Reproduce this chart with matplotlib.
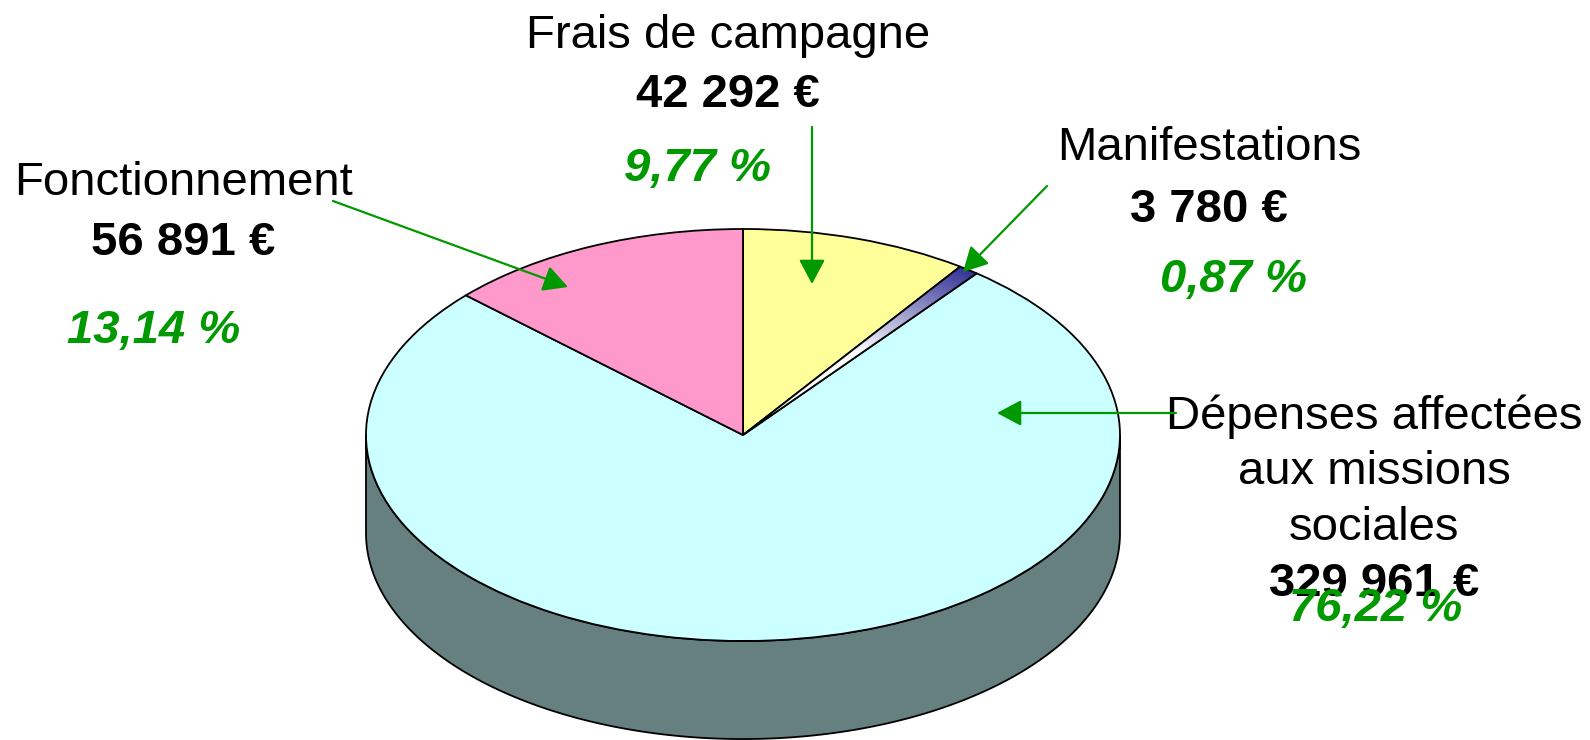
import numpy as np
import matplotlib
matplotlib.use('Agg')
import matplotlib.pyplot as plt
from matplotlib.colors import LinearSegmentedColormap, to_rgb

# Données
noms = ['Frais de campagne', 'Manifestations', 'Dépenses affectées\naux missions\nsociales', 'Fonctionnement']
montants = [42292, 3780, 329961, 56891]
montants_txt = ['42 292 €', '3 780 €', '329 961 €', '56 891 €']
pourcents = ['9,77 %', '0,87 %', '76,22 %', '13,14 %']
couleurs = ['#ffff99', '#333399', '#ccffff', '#ff99cc']

W, H = 1590, 740
fig = plt.figure(figsize=(W / 100, H / 100), dpi=100)
ax = fig.add_axes([0, 0, 1, 1])

# camembert (partie haute)
wedges, _ = ax.pie(montants, colors=couleurs, startangle=90, counterclock=False,
                   radius=1, center=(0, 0),
                   wedgeprops=dict(edgecolor='black', linewidth=1.3, zorder=3))

# dégradé sur la petite part "Manifestations"
xx, yy = np.meshgrid(np.linspace(-1, 1, 400), np.linspace(-1, 1, 400))
rr = np.sqrt(xx ** 2 + yy ** 2)
cmap_grad = LinearSegmentedColormap.from_list('g', ['#ffffff', '#ffffff', '#333399'])
img = ax.imshow(rr, extent=(-1, 1, -1, 1), origin='lower', cmap=cmap_grad,
                vmin=0, vmax=1, zorder=3.5, aspect='auto')
img.set_clip_path(wedges[1])
wedges[1].set_facecolor('none')
wedges[1].set_zorder(4)

# épaisseur (côté du cylindre)
epaisseur = 0.476
fracs = np.array(montants) / sum(montants)
cum = np.concatenate([[0], np.cumsum(fracs)])
for i in range(len(montants)):
    t_hi = 90 - cum[i] * 360
    t_lo = 90 - cum[i + 1] * 360
    # ramener dans [-180, 0] (face avant)
    for shift in (0, -360, 360):
        a = max(t_lo + shift, -180)
        b = min(t_hi + shift, 0)
        if b > a:
            t = np.radians(np.linspace(a, b, 200))
            xs = np.concatenate([np.cos(t), np.cos(t[::-1])])
            ys = np.concatenate([np.sin(t), np.sin(t[::-1]) - epaisseur])
            c = tuple(0.5 * v for v in to_rgb(couleurs[i]))
            ax.fill(xs, ys, color=c, edgecolor='black', linewidth=1.3, zorder=2)

ax.set_aspect('auto')
# pixels -> unités
ax.set_xlim(-1.9708, 2.2467)
ax.set_ylim(-1.4806, 2.1117)
ax.axis('off')

police = 'Liberation Sans'
fs = 34
vert = '#009900'
dy = 4  # petit décalage vertical des textes


def fy(y):
    return H - y


def texte(x, y, s, **kw):
    ax.annotate(s, xy=(x, fy(y + dy)), xycoords='figure pixels', ha='center', va='center',
                fontsize=fs, family=police, zorder=6, **kw)


def fleche(x0, y0, x1, y1):
    ax.annotate('', xy=(x1, fy(y1)), xytext=(x0, fy(y0)),
                xycoords='figure pixels', textcoords='figure pixels', zorder=7,
                arrowprops=dict(arrowstyle='-|>,head_length=0.75,head_width=0.4',
                                mutation_scale=20, color=vert, lw=1.6,
                                shrinkA=0, shrinkB=0))


# Frais de campagne
texte(728, 32, noms[0])
texte(728, 91, montants_txt[0], fontweight='bold')
texte(698, 165, pourcents[0], fontweight='bold', style='italic', color=vert)
fleche(812, 127, 812, 284)

# Manifestations
texte(1209, 144, noms[1])
texte(1209, 206, montants_txt[1], fontweight='bold')
texte(1234, 276, pourcents[1], fontweight='bold', style='italic', color=vert)
fleche(1047, 186, 963, 272)

# Fonctionnement
texte(183, 179, noms[3])
texte(183, 239, montants_txt[3], fontweight='bold')
texte(154, 327, pourcents[3], fontweight='bold', style='italic', color=vert)
fleche(333, 201, 568, 287)

# Dépenses affectées aux missions sociales
for k, ligne in enumerate(noms[2].split('\n')):
    texte(1374, 413 + k * 55.5, ligne)
texte(1374, 580, montants_txt[2], fontweight='bold')
texte(1376, 605, pourcents[2], fontweight='bold', style='italic', color=vert)
fleche(1176, 413, 997, 413)

fig.savefig('out.png', dpi=100)
